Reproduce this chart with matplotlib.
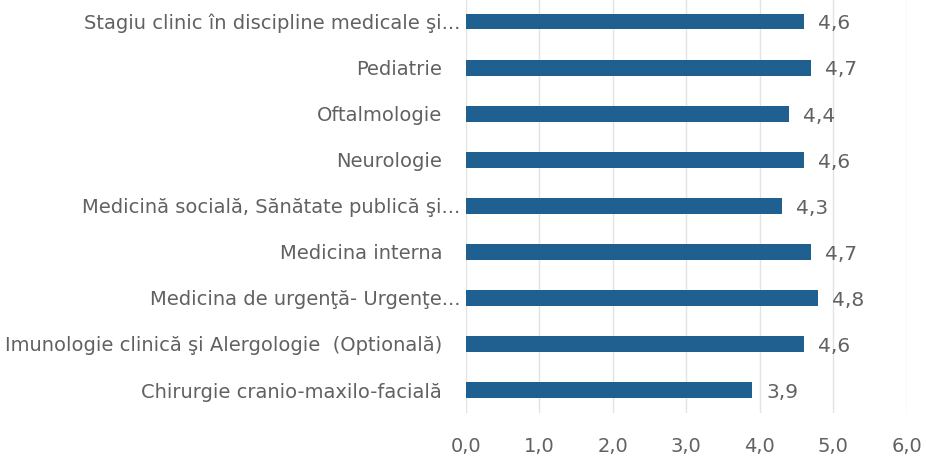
import matplotlib.pyplot as plt
from matplotlib.transforms import ScaledTranslation

categories = [
    'Stagiu clinic în discipline medicale şi...',
    'Pediatrie',
    'Oftalmologie',
    'Neurologie',
    'Medicină socială, Sănătate publică şi...',
    'Medicina interna',
    'Medicina de urgenţă- Urgenţe...',
    'Imunologie clinică şi Alergologie  (Optională)',
    'Chirurgie cranio-maxilo-facială',
]
values = [4.6, 4.7, 4.4, 4.6, 4.3, 4.7, 4.8, 4.6, 3.9]
xticks = [0, 1, 2, 3, 4, 5, 6]

plt.rcParams['font.family'] = ['DejaVu Sans']
gray = '#616161'

fig = plt.figure(figsize=(9.26, 4.61), dpi=100)
ax = fig.add_axes([0.503, 0.104, 0.476, 0.899])

pos = list(range(len(categories)))[::-1]
ax.barh(pos, values, height=0.34, color='#1f6091', zorder=3)
for p, v in zip(pos, values):
    ax.text(v + 0.19, p - 0.05, f'{v:.1f}'.replace('.', ','), va='center',
            ha='left', fontsize=14.5, color=gray)

ax.set_xlim(0, 6)
ax.set_ylim(-0.5, len(categories) - 0.5)
ax.set_xticks(xticks)
ax.set_xticklabels([f'{t:.1f}'.replace('.', ',') for t in xticks], fontsize=14, color=gray)
ax.set_yticks(pos)
ax.set_yticklabels(categories, fontsize=14, color=gray)
ax.tick_params(length=0)
ax.tick_params(axis='x', pad=17)
ax.tick_params(axis='y', pad=4)
# labels not truncated with "..." sit a bit further from the bars
for lab, name in zip(ax.get_yticklabels(), categories):
    if not name.endswith('...'):
        lab.set_transform(lab.get_transform() + ScaledTranslation(-0.18, 0, fig.dpi_scale_trans))
ax.grid(axis='x', color='#e3e3e3', linewidth=1, zorder=0)
for s in ax.spines.values():
    s.set_visible(False)

fig.savefig('out.png', dpi=100)
